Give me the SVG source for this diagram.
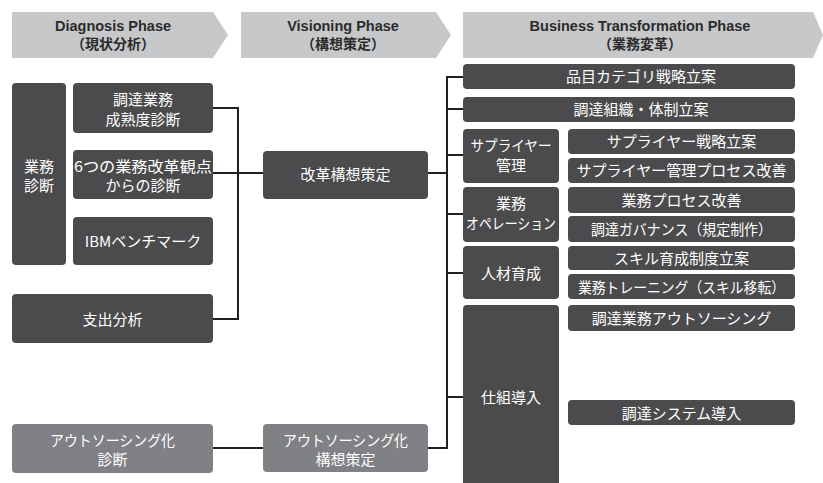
<svg xmlns="http://www.w3.org/2000/svg" width="823" height="483" viewBox="0 0 823 483">
<style>
.ph{fill:#c7c8ca}
.pt{font-family:"Liberation Sans","Noto Sans CJK JP",sans-serif;font-weight:bold;font-size:14.5px;fill:#2b2b2b;text-anchor:middle}
.pj{font-family:"Noto Sans CJK JP",sans-serif;font-weight:bold;font-size:14px;fill:#2b2b2b;text-anchor:middle}
.d{fill:#4b4b4d}
.l{fill:#808184}
.t{font-family:"Noto Sans CJK JP","Liberation Sans",sans-serif;font-size:15px;fill:#ffffff;text-anchor:middle}
.c{fill:none;stroke:#231f20;stroke-width:2}
</style>
<rect width="823" height="483" fill="#ffffff"/>
<g id="phase-diagnosis">
<polygon class="ph" points="12,12 213,12 228,35 213,58 12,58"/>
<text class="pt" x="113" y="31">Diagnosis Phase</text>
<text class="pj" x="113" y="49">（現状分析）</text>
</g>
<g id="phase-visioning">
<polygon class="ph" points="241,12 436,12 451,35 436,58 241,58"/>
<text class="pt" x="343" y="31">Visioning Phase</text>
<text class="pj" x="343" y="49">（構想策定）</text>
</g>
<g id="phase-business">
<polygon class="ph" points="463,12 813,12 823,35 813,58 463,58"/>
<text class="pt" x="640" y="31">Business Transformation Phase</text>
<text class="pj" x="640" y="49">（業務変革）</text>
</g>
<g id="connectors">
<polyline class="c" points="213,108 238,108 238,319 213,319"/>
<line class="c" x1="213" y1="173" x2="263" y2="173"/>
<line class="c" x1="213" y1="448" x2="263" y2="448"/>
<line class="c" x1="428" y1="173" x2="447" y2="173"/>
<polyline class="c" points="428,448 447,448 447,77 463,77"/>
<line class="c" x1="447" y1="109" x2="463" y2="109"/>
<line class="c" x1="447" y1="155" x2="463" y2="155"/>
<line class="c" x1="447" y1="214" x2="463" y2="214"/>
<line class="c" x1="447" y1="273" x2="463" y2="273"/>
<line class="c" x1="447" y1="397" x2="463" y2="397"/>
</g>
<g id="gyomu-shindan">
<rect class="d" x="12" y="83" width="54" height="182" rx="4"/>
<text class="t" x="39" y="171.5">業務</text>
<text class="t" x="39" y="191">診断</text>
</g>
<g id="chotatsu-seijukudo">
<rect class="d" x="73" y="83" width="140" height="50" rx="4"/>
<text class="t" x="143" y="105">調達業務</text>
<text class="t" x="143" y="124.5">成熟度診断</text>
</g>
<g id="kaikaku-kanten">
<rect class="d" x="73" y="150" width="140" height="49" rx="4"/>
<text class="t" x="143" y="171.5" textLength="138" lengthAdjust="spacingAndGlyphs">6つの業務改革観点</text>
<text class="t" x="143" y="191">からの診断</text>
</g>
<g id="ibm-benchmark">
<rect class="d" x="73" y="217" width="140" height="48" rx="4"/>
<text class="t" x="143" y="247">IBMベンチマーク</text>
</g>
<g id="shishutsu-bunseki">
<rect class="d" x="12" y="294" width="201" height="49" rx="4"/>
<text class="t" x="112.5" y="324.5">支出分析</text>
</g>
<g id="outsourcing-shindan">
<rect class="l" x="12" y="424" width="201" height="49" rx="4"/>
<text class="t" x="112.5" y="445.5" textLength="125" lengthAdjust="spacingAndGlyphs">アウトソーシング化</text>
<text class="t" x="112.5" y="465">診断</text>
</g>
<g id="kaikaku-koso">
<rect class="d" x="263" y="151" width="165" height="48" rx="4"/>
<text class="t" x="345.5" y="180">改革構想策定</text>
</g>
<g id="outsourcing-koso">
<rect class="l" x="263" y="424" width="165" height="48" rx="4"/>
<text class="t" x="345.5" y="445.5" textLength="125" lengthAdjust="spacingAndGlyphs">アウトソーシング化</text>
<text class="t" x="345.5" y="464.5">構想策定</text>
</g>
<g id="hinmoku">
<rect class="d" x="463" y="64" width="332" height="25" rx="4"/>
<text class="t" x="641" y="82">品目カテゴリ戦略立案</text>
</g>
<g id="soshiki">
<rect class="d" x="463" y="97" width="332" height="25" rx="4"/>
<text class="t" x="641" y="115">調達組織・体制立案</text>
</g>
<g id="supplier-kanri">
<rect class="d" x="463" y="129" width="96" height="54" rx="4"/>
<text class="t" x="511" y="150.5" textLength="81" lengthAdjust="spacingAndGlyphs">サプライヤー</text>
<text class="t" x="511" y="170.5">管理</text>
</g>
<g id="supplier-senryaku">
<rect class="d" x="568" y="129" width="227" height="25" rx="4"/>
<text class="t" x="681.5" y="147">サプライヤー戦略立案</text>
</g>
<g id="supplier-process">
<rect class="d" x="568" y="158" width="227" height="25" rx="4"/>
<text class="t" x="681.5" y="176" textLength="210" lengthAdjust="spacingAndGlyphs">サプライヤー管理プロセス改善</text>
</g>
<g id="gyomu-operation">
<rect class="d" x="463" y="187" width="96" height="55" rx="4"/>
<text class="t" x="511" y="208.5">業務</text>
<text class="t" x="511" y="228.5" textLength="90" lengthAdjust="spacingAndGlyphs">オペレーション</text>
</g>
<g id="gyomu-process">
<rect class="d" x="568" y="187" width="227" height="26" rx="4"/>
<text class="t" x="681.5" y="205.5">業務プロセス改善</text>
</g>
<g id="governance">
<rect class="d" x="568" y="216" width="227" height="26" rx="4"/>
<text class="t" x="681.5" y="234.5" textLength="181" lengthAdjust="spacingAndGlyphs">調達ガバナンス（規定制作）</text>
</g>
<g id="jinzai">
<rect class="d" x="463" y="246" width="96" height="53" rx="4"/>
<text class="t" x="511" y="278.5">人材育成</text>
</g>
<g id="skill-seido">
<rect class="d" x="568" y="246" width="227" height="24" rx="4"/>
<text class="t" x="681.5" y="263.5">スキル育成制度立案</text>
</g>
<g id="training">
<rect class="d" x="568" y="274" width="227" height="25" rx="4"/>
<text class="t" x="681.5" y="292.5" textLength="207" lengthAdjust="spacingAndGlyphs">業務トレーニング（スキル移転）</text>
</g>
<g id="shikumi">
<path class="d" d="M463,309 a4,4 0 0 1 4,-4 h88 a4,4 0 0 1 4,4 V483 H463 Z"/>
<text class="t" x="511" y="402.5">仕組導入</text>
</g>
<g id="outsourcing-chotatsu">
<rect class="d" x="568" y="305" width="227" height="26" rx="4"/>
<text class="t" x="681.5" y="323.5">調達業務アウトソーシング</text>
</g>
<g id="system">
<rect class="d" x="568" y="400" width="227" height="25" rx="4"/>
<text class="t" x="681.5" y="418.5">調達システム導入</text>
</g>
</svg>
